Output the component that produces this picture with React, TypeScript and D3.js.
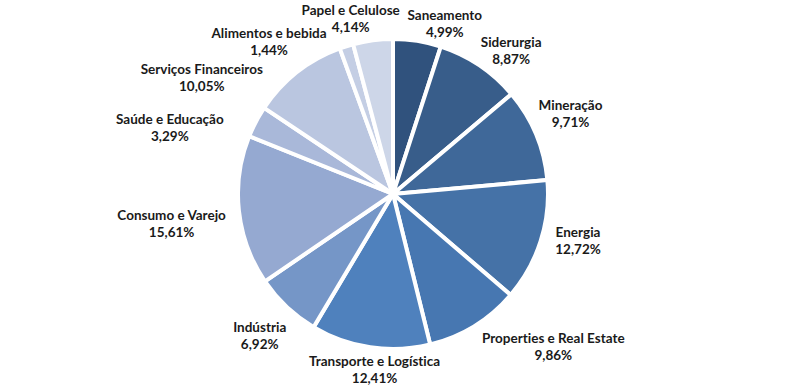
import { useEffect, useRef } from 'react'
import * as d3 from 'd3'

const categories = [
  'Saneamento',
  'Siderurgia',
  'Mineração',
  'Energia',
  'Properties e Real Estate',
  'Transporte e Logística',
  'Indústria',
  'Consumo e Varejo',
  'Saúde e Educação',
  'Serviços Financeiros',
  'Alimentos e bebida',
  'Papel e Celulose'
]

const shares = [4.99, 8.87, 9.71, 12.72, 9.86, 12.41, 6.92, 15.61, 3.29, 10.05, 1.44, 4.14]

const colors = [
  '#30527d', '#385d8a', '#3f6899', '#4572a7', '#4777b1', '#4f81bd',
  '#7596c7', '#95a9d1', '#a9b8d9', '#bac6e0', '#c4cee4', '#cdd6e8'
]

// Excel moves some labels around to keep them apart
const labelNudge: Record<string, [number, number]> = {
  'Saneamento': [17, 9],
  'Siderurgia': [0, 10],
  'Mineração': [-5, -6],
  'Energia': [7, -10],
  'Properties e Real Estate': [15, -2],
  'Transporte e Logística': [21, -2],
  'Indústria': [5, 7],
  'Consumo e Varejo': [-5, 10],
  'Saúde e Educação': [-25, 23],
  'Serviços Financeiros': [-30, 30],
  'Alimentos e bebida': [-47, 21],
  'Papel e Celulose': [-11, 4]
}

export default function App() {
  const svgRef = useRef<SVGSVGElement>(null)
  const width = 785
  const height = 390

  useEffect(() => {
    if (!svgRef.current) return
    const svg = d3.select(svgRef.current)
    svg.selectAll('*').remove()

    const cx = 393
    const cy = 194
    const radius = 155

    const data = categories.map((c, i) => ({ name: c, value: shares[i], color: colors[i] }))
    const pie = d3.pie<{ name: string; value: number; color: string }>()
      .sort(null)
      .value(d => d.value)
    const arc = d3.arc<d3.PieArcDatum<{ name: string; value: number; color: string }>>()
      .innerRadius(0)
      .outerRadius(radius)

    const g = svg.append('g').attr('transform', `translate(${cx},${cy})`)
    const arcs = pie(data)

    g.selectAll('path')
      .data(arcs)
      .enter()
      .append('path')
      .attr('d', arc)
      .attr('fill', d => d.data.color)
      .attr('stroke', '#fff')
      .attr('stroke-width', 4)
      .attr('stroke-linejoin', 'round')

    const fmt = (v: number) => v.toFixed(2).replace('.', ',') + '%'
    const clamp = (v: number) => Math.max(-1, Math.min(1, v))
    const r0 = radius + 8
    const lineH = 17

    arcs.forEach(d => {
      const t = g.append('text')
        .attr('font-family', 'Lato, "Liberation Sans", sans-serif')
        .attr('font-size', 13.5)
        .attr('font-weight', 'bold')
        .attr('fill', '#1a1a1a')
        .attr('text-anchor', 'middle')
        .style('font-variant-ligatures', 'none')
      t.append('tspan').attr('x', 0).attr('dy', 0).text(d.data.name)
      t.append('tspan').attr('x', 0).attr('dy', lineH).text(fmt(d.data.value))
      const bb = (t.node() as SVGTextElement).getBBox()
      const w = bb.width
      const h = lineH * 2
      const a = (d.startAngle + d.endAngle) / 2
      const s = Math.sin(a)
      const c = Math.cos(a)
      const nudge = labelNudge[d.data.name] || [0, 0]
      const x = r0 * s + (w / 2) * clamp(1.6 * s) + nudge[0]
      const y = -r0 * c + (h / 2) * clamp(-1.6 * c) + nudge[1]
      // first baseline sits a bit above block centre
      t.attr('transform', `translate(${x},${y - lineH / 2 + 4})`)
    })
  }, [])

  return (
    <svg
      ref={svgRef}
      width={width}
      height={height}
      style={{ position: 'absolute', left: 0, top: 0, background: '#fff' }}
    />
  )
}
